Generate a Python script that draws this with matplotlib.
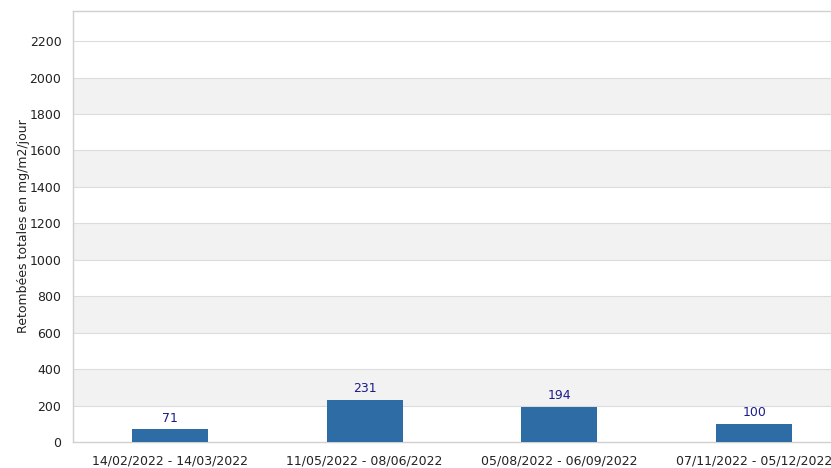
import matplotlib
matplotlib.use("Agg")
import matplotlib.pyplot as plt
import numpy as np

categories = ["14/02/2022 - 14/03/2022", "11/05/2022 - 08/06/2022",
              "05/08/2022 - 06/09/2022", "07/11/2022 - 05/12/2022"]
values = [71, 231, 194, 100]
yticks = list(range(0, 2201, 200))
ylabel = "Retombées totales en mg/m2/jour"

fig = plt.figure(figsize=(8.31, 4.68), dpi=100)
ax = fig.add_axes([72.5/831, 26/468, 779/831, 431/468])

ymax = 2365
ax.set_xlim(-0.5, len(categories) - 0.5)
ax.set_ylim(0, ymax)

# alternating bands
for lo in range(200, 2200, 400):
    ax.axhspan(lo, lo + 200, color="#f2f2f2", zorder=0, lw=0)
for y in yticks[1:]:
    ax.axhline(y, color="#dcdcdc", lw=0.8, zorder=1)

x = np.arange(len(categories))
bars = ax.bar(x, values, width=0.39, color="#2e6ca6", zorder=3)
for xi, v in zip(x, values):
    ax.text(xi, v + 25, str(v), ha="center", va="bottom", fontsize=9, color="#1c1c8c", zorder=4)

ax.set_xticks(x)
ax.set_xticklabels(categories, fontsize=9, color="#222222")
ax.set_yticks(yticks)
ax.set_yticklabels([str(t) for t in yticks], fontsize=9, color="#222222")
ax.tick_params(length=0, pad=8)
ax.tick_params(axis="x", pad=9)
ax.set_ylabel(ylabel, fontsize=9, color="#222222", labelpad=0)

for side in ["left", "top", "bottom"]:
    ax.spines[side].set_color("#d0d0d0")
    ax.spines[side].set_linewidth(1)
ax.spines["right"].set_visible(False)

fig.savefig("out.png", dpi=100)
